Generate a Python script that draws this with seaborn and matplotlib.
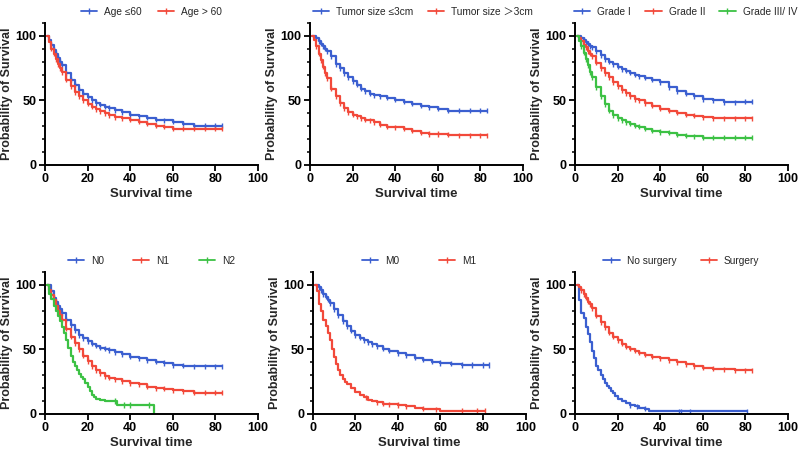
import numpy as np
import pandas as pd
import matplotlib
matplotlib.use("Agg")
import matplotlib.pyplot as plt
from matplotlib.lines import Line2D
from matplotlib.ticker import MultipleLocator
import seaborn as sns

sns.set_theme(style="ticks")
plt.rcParams['font.family'] = ['Liberation Sans', 'Noto Sans CJK SC', 'DejaVu Sans']

BLUE = "#3b5fd0"
RED = "#f2493a"
GREEN = "#3cc144"

# common time grid (months)
T = [1, 2, 3, 4, 5, 6, 7, 8, 10, 12, 14, 16, 18, 20, 22, 24, 26, 28, 30, 33, 36,
     40, 44, 48, 52, 56, 60, 65, 70, 75, 80, 83]

# Panel 1: Age
age_le60 = [100, 97, 93, 89, 86, 83, 80, 77, 71, 66, 62, 58, 55, 52.5, 50, 48, 46.5, 45, 44,
            42.5, 41, 39, 37.5, 36.5, 35, 34.5, 33.5, 32, 30.5, 30.5, 30.5, 30.5]
age_gt60 = [100, 95, 90, 86, 82, 78, 75, 72, 66, 61, 56.5, 53, 50, 47.5, 45, 43, 41.5, 40, 38.5,
            37, 36, 35, 33.5, 32, 30.5, 29.5, 28, 28, 28, 28, 28, 28]

# Panel 2: Tumor size
size_le3 = [100, 100, 98, 96, 94, 92, 90, 88, 84, 78, 75, 71, 68, 65, 62, 59, 57, 55, 54,
            53, 52, 50.5, 49, 47.5, 46, 44.5, 43.5, 42, 42, 42, 42, 42]
size_gt3 = [100, 97, 92, 86, 81, 76, 71, 67, 59, 53, 48, 44, 41, 39, 37.5, 36, 35, 34.5, 33,
            31, 29.5, 29, 28, 26.5, 25, 24, 24, 23.5, 23, 23, 23, 23]

# Panel 3: Grade
grade1 = [100, 100, 98, 97, 95, 94, 92, 91, 88, 85, 82, 80, 78, 76, 74, 73, 71.5, 70, 68.5,
          67.5, 66, 64, 60, 57, 55, 53, 51, 50, 48.5, 48.5, 49, 49]
grade2 = [100, 98, 96, 93, 91, 88, 86, 84, 79, 75, 71, 68, 64, 61, 58, 55.5, 53, 51, 50,
          48, 46, 43.5, 42, 40.5, 39, 38, 37, 36, 36, 36, 36, 36]
grade34 = [100, 96, 92, 87, 82, 77, 72, 68, 60, 53, 47, 42, 38.5, 36, 34.5, 33, 32, 30.5, 29.5,
           28, 26.5, 25.5, 25, 23.5, 22.5, 22, 21, 21, 21, 21, 21, 21]

# Panel 4: N stage
n0 = [100, 100, 95, 90, 87, 84, 81, 78, 73, 69, 65, 61, 58.5, 56.5, 54.5, 53, 51.5, 50.5, 49.5,
      48, 46.5, 44.5, 43, 41.5, 40.5, 39.5, 38, 37.5, 37, 37, 37, 37]
n1 = [100, 96, 92, 88, 84, 80, 77, 73, 66, 60, 55, 50, 45, 41, 37, 34, 31.5, 29.5, 28,
      27, 25.5, 24, 23, 21, 20, 19.5, 18.5, 17.5, 16.5, 16.5, 16.5, 16.5]
n2_t = [1, 2, 3, 4, 5, 6, 7, 8, 9, 10, 11, 12, 13, 14, 15, 16, 17, 18, 19, 20, 21, 22, 23, 24,
        26, 28, 30, 34, 51]
n2 = [100, 93, 89, 84, 80, 76, 72, 67, 63, 57, 51, 45, 40, 37, 34, 31, 29, 27, 24, 21, 18, 15,
      13, 12, 11, 10, 10, 7, 0]
n2_cens = [33, 37, 40, 49]

# Panel 5: M stage
m0 = [100, 100, 98, 96, 93, 91, 88.5, 86, 81, 76.5, 72, 68, 64.5, 61, 59, 57, 55.5, 54, 52.5,
      50.5, 49, 47, 45.5, 43.5, 42, 40.5, 39.5, 39, 38, 38, 38, 38]
m1_t = [1, 2, 3, 4, 5, 6, 7, 8, 9, 10, 11, 12, 13, 14, 15, 16, 18, 20, 22, 24, 26, 28, 30, 33,
        36, 40, 44, 48, 52, 56, 60, 70, 81]
m1 = [100, 95, 85, 80, 73, 68, 63, 57, 50, 44, 39, 34, 30, 27, 25, 23, 20, 17, 15, 13, 11, 10,
      9, 8, 7.5, 7, 6, 5, 4, 3.5, 2.5, 2.5, 2.5]
m1_cens = [25, 30, 33, 36, 40, 44, 52, 58, 70, 77, 81]

# Panel 6: Surgery
nosurg_t = [1, 2, 3, 4, 5, 6, 7, 8, 9, 10, 11, 12, 13, 14, 15, 16, 17, 18, 19, 20, 22, 24, 26,
            28, 30, 33, 35, 81]
nosurg = [100, 88, 78, 74, 67, 62, 56, 49, 43, 37, 34, 30, 27, 24, 22, 20, 18, 16, 14, 12, 10,
          8.5, 7, 6, 5, 4, 2, 2]
nosurg_cens = [26, 29, 33, 49, 50, 54, 81]
surg = [100, 98, 96, 93, 90, 87, 85, 82, 76, 71, 67, 63, 60, 57, 54.5, 52, 50.5, 49, 47.5,
        46, 44.5, 43, 41.5, 40, 38.5, 37, 36, 35, 34.5, 34, 34, 34]

dense_cens = [t for t in T if t >= 3]

panels = [
    [("Age ≤60", T, age_le60, dense_cens, BLUE), ("Age > 60", T, age_gt60, dense_cens, RED)],
    [("Tumor size ≤3cm", T, size_le3, dense_cens, BLUE), ("Tumor size ＞3cm", T, size_gt3, dense_cens, RED)],
    [("Grade I", T, grade1, dense_cens, BLUE), ("Grade II", T, grade2, dense_cens, RED),
     ("Grade III/ IV", T, grade34, dense_cens, GREEN)],
    [("N0", T, n0, dense_cens, BLUE), ("N1", T, n1, dense_cens, RED), ("N2", n2_t, n2, n2_cens, GREEN)],
    [("M0", T, m0, dense_cens, BLUE), ("M1", m1_t, m1, m1_cens, RED)],
    [("No surgery", nosurg_t, nosurg, nosurg_cens, BLUE), ("Surgery", T, surg, dense_cens, RED)],
]

fig = plt.figure(figsize=(8, 4.53), dpi=100)
lefts = [0.05625, 0.3875, 0.71875, 0.05625, 0.391, 0.71875]
bottoms = [0.636, 0.636, 0.636, 0.0861, 0.0861, 0.0861]
W, H = 0.266, 0.3135
colspace = [1.6, 1.4, 1.4, 2.9, 3.9, 2.4]
leg_x = [0.5, 0.53, 0.52, 0.5, 0.5, 0.5]

for i, series in enumerate(panels):
    ax = fig.add_axes([lefts[i], bottoms[i], W, H])
    rows = []
    crows = []
    for name, tt, vv, cc, col in series:
        tt_a = np.array(tt, float)
        vv_a = np.array(vv, float)
        for t, v in zip(tt_a, vv_a):
            rows.append((name, t, v))
        idx = np.searchsorted(tt_a, np.array(cc, float), side="right") - 1
        for t, j in zip(cc, idx):
            crows.append((name, t, vv_a[j]))
    df = pd.DataFrame(rows, columns=["group", "time", "surv"])
    cdf = pd.DataFrame(crows, columns=["group", "time", "surv"])
    pal = {name: col for name, _, _, _, col in series}
    sns.lineplot(data=df, x="time", y="surv", hue="group", palette=pal, estimator=None,
                 drawstyle="steps-post", linewidth=1.6, legend=False, ax=ax)
    sns.scatterplot(data=cdf, x="time", y="surv", hue="group", palette=pal, marker="|",
                    s=14, linewidth=1.0, legend=False, ax=ax)
    ax.set_xlim(0, 100)
    ax.set_ylim(0, 110)
    ax.set_xticks([0, 20, 40, 60, 80, 100])
    ax.set_yticks([0, 50, 100])
    ax.yaxis.set_minor_locator(MultipleLocator(10))
    ax.spines["top"].set_visible(False)
    ax.spines["right"].set_visible(False)
    for s in ("left", "bottom"):
        ax.spines[s].set_linewidth(1.4)
        ax.spines[s].set_color("black")
    ax.tick_params(axis="both", which="major", length=4, width=1.3, labelsize=9, pad=2, colors="black")
    ax.tick_params(axis="y", which="minor", length=2.5, width=1.1, colors="black")
    for lab in ax.get_xticklabels() + ax.get_yticklabels():
        lab.set_fontweight("bold")
    ax.set_xlabel("Survival time", fontsize=9.5, fontweight="bold", labelpad=2)
    ax.set_ylabel("Probability of Survival", fontsize=9, fontweight="bold", labelpad=2)
    handles = [Line2D([0], [0], color=col, lw=1.3, marker="|", markersize=4, markeredgewidth=1.0)
               for _, _, _, _, col in series]
    labels = [name for name, _, _, _, _ in series]
    ax.legend(handles, labels, loc="center", bbox_to_anchor=(leg_x[i], 1.08), ncol=len(series),
              frameon=False, fontsize=7.3, handlelength=1.6, columnspacing=colspace[i],
              handletextpad=0.7, borderaxespad=0, borderpad=0)
    ax.set_facecolor("white")

fig.savefig("out.png", dpi=100, facecolor="white")
